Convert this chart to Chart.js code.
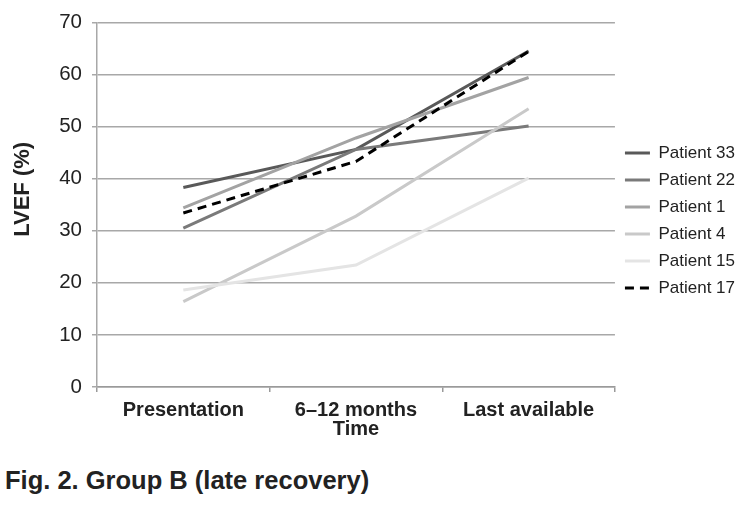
<!DOCTYPE html>
<html>
<head>
<meta charset="utf-8">
<script src="https://cdn.jsdelivr.net/npm/chart.js@4.4.1/dist/chart.umd.min.js"></script>
<style>
  html, body { margin: 0; padding: 0; background: #fff; }
  #wrap { position: relative; width: 749px; height: 512px; }
  #box { position: absolute; left: 0; top: 0; width: 749px; height: 441px; }
  #caption {
    position: absolute; left: 5px; top: 468px;
    font: bold 25.5px "Liberation Sans", Arial, sans-serif; line-height: 25px;
    color: #222; white-space: nowrap;
  }
</style>
</head>
<body>
<div id="wrap">
  <div id="box"><canvas id="lvefChart"></canvas></div>
  <div id="caption">Fig. 2. Group B (late recovery)</div>
</div>
<script>
// time points and LVEF (%) per patient
const timePoints = ['Presentation', '6–12 months', 'Last available'];
const yTicks = [0, 10, 20, 30, 40, 50, 60, 70];

const patient33 = [38.3, 45.6, 64.5];
const patient22 = [30.5, 45.6, 50.1];
const patient1 = [34.4, 47.8, 59.4];
const patient4 = [16.4, 32.8, 53.4];
const patient15 = [18.6, 23.4, 40.1];
const patient17 = [33.4, 43.3, 64.4];

const seriesNames = ['Patient 33', 'Patient 22', 'Patient 1', 'Patient 4', 'Patient 15', 'Patient 17'];
const seriesData = [patient33, patient22, patient1, patient4, patient15, patient17];
const seriesColors = ['#595959', '#7a7a7a', '#a3a3a3', '#c9c9c9', '#e4e4e4', '#000000'];
const seriesDash = [[], [], [], [], [], [9, 6]];

// Excel draws the last series on top, Chart.js draws the first on top -> reverse
const datasets = seriesNames.map((name, i) => ({
  label: name,
  data: seriesData[i],
  borderColor: seriesColors[i],
  backgroundColor: seriesColors[i],
  borderWidth: 3,
  borderDash: seriesDash[i],
  pointRadius: 0,
  pointHoverRadius: 0,
  tension: 0,
  fill: false
})).reverse();

const font = '"Liberation Sans", Arial, sans-serif';
const ink = '#222';

// legend samples as short lines, dashed where the series is dashed
function lineLabels(chart) {
  const items = Chart.defaults.plugins.legend.labels.generateLabels(chart);
  return items.map(item => {
    const ds = chart.data.datasets[item.datasetIndex];
    return Object.assign(item, {
      lineDash: ds.borderDash,
      strokeStyle: ds.borderColor,
      fillStyle: ds.borderColor,
      lineWidth: 3,
      pointStyle: 'line'
    });
  });
}

const ctx = document.getElementById('lvefChart').getContext('2d');
const lvefChart = new Chart(ctx, {
  type: 'line',
  data: { labels: timePoints, datasets: datasets },
  options: {
    responsive: true,
    maintainAspectRatio: false,
    animation: false,
    layout: { padding: { top: 13, bottom: 13, left: 0, right: 4 } },
    plugins: {
      tooltip: { enabled: false },
      legend: {
        position: 'right',
        reverse: true,
        labels: {
          usePointStyle: true,
          pointStyle: 'line',
          pointStyleWidth: 25,
          padding: 10,
          color: ink,
          font: { family: font, size: 17 },
          generateLabels: lineLabels
        }
      }
    },
    scales: {
      x: {
        offset: true,
        grid: { offset: true, drawOnChartArea: false, drawTicks: true, tickLength: 5, color: '#9a9a9a', lineWidth: 1.5 },
        border: { color: '#9a9a9a', width: 1.5 },
        ticks: { padding: 8.5, color: ink, font: { family: font, size: 20, weight: 'bold', lineHeight: 1 } },
        title: { display: true, text: 'Time', color: ink, padding: { top: 0, bottom: -11.5 },
                 font: { family: font, size: 20, weight: 'bold', lineHeight: 1 } },
        afterFit: s => { s.height = 41; }
      },
      y: {
        min: 0,
        max: 70,
        afterBuildTicks: s => { s.ticks = yTicks.map(v => ({ value: v })); },
        grid: { color: '#a8a8a8', lineWidth: 1.5, tickLength: 5, drawTicks: true },
        border: { color: '#a8a8a8', width: 1.5 },
        ticks: { padding: 10, color: ink, font: { family: font, size: 20.5 } },
        title: { display: true, text: '     LVEF (%)', color: ink, padding: { top: 12, bottom: 0 },
                 font: { family: font, size: 22, weight: 'bold', lineHeight: 1 } },
        afterFit: s => { s.width = 97; }
      }
    }
  }
});
</script>
</body>
</html>
